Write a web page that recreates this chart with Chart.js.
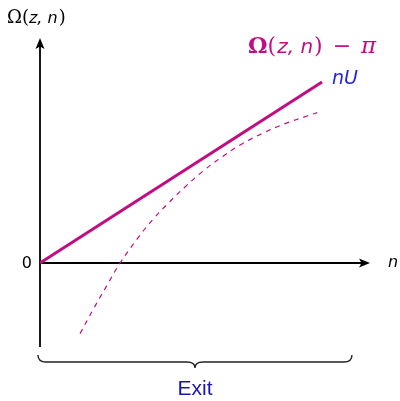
<!DOCTYPE html>
<html>
<head>
<meta charset="utf-8">
<script src="https://cdn.jsdelivr.net/npm/chart.js@4/dist/chart.umd.min.js"></script>
<style>
  html, body { margin: 0; padding: 0; background: #fff; }
  #wrap { width: 400px; height: 401px; position: relative; }
</style>
</head>
<body>
<div id="wrap"><canvas id="c" width="400" height="401"></canvas></div>
<script>
// Straight line nU (solid) and the curve Ω(z, n) − π (dashed)
const lineN = [0, 10];
const lineValues = [0, 10];

const curveN = [1.42, 1.88, 2.38, 2.84, 3.44, 4.01, 4.61, 5.14, 5.78, 6.49, 7.16, 7.91, 8.69, 9.47, 10.0];
const curveValues = [-3.90, -2.58, -1.22, 0.0, 1.32, 2.42, 3.40, 4.20, 5.08, 5.90, 6.58, 7.18, 7.70, 8.12, 8.40];

// Axis extents and the range spanned by the brace
const xRange = [0, 11.7];
const yRange = [-4.64, 12.43];
const braceRange = [0, 11.06];

const MAGENTA = '#c20d82';
const BLUE = '#1f1fe6';
const DARK_BLUE = '#1a14b4';

const pts = (xs, ys) => xs.map((x, i) => ({ x, y: ys[i] }));

function arrowHead(ctx, x, y, dir) {
  ctx.beginPath();
  if (dir === 'up') {
    ctx.moveTo(x, y);
    ctx.lineTo(x - 4.5, y + 11);
    ctx.lineTo(x, y + 8.5);
    ctx.lineTo(x + 4.5, y + 11);
  } else {
    ctx.moveTo(x, y);
    ctx.lineTo(x - 11, y - 4.5);
    ctx.lineTo(x - 8.5, y);
    ctx.lineTo(x - 11, y + 4.5);
  }
  ctx.closePath();
  ctx.fill();
}

// Draws a run of text pieces left to right, each with its own font
function drawRun(ctx, x, y, pieces) {
  let cx = x;
  pieces.forEach(p => {
    if (p.gap) { cx += p.gap; return; }
    ctx.font = p.font;
    ctx.fillText(p.text, cx, y + (p.dy || 0));
    cx += ctx.measureText(p.text).width + (p.after || 0);
  });
}

const axesPlugin = {
  id: 'axesPlugin',
  beforeDatasetsDraw(chart) {
    const { ctx, scales: { x, y } } = chart;
    const x0 = x.getPixelForValue(0);
    const y0 = y.getPixelForValue(0);
    const xEnd = x.getPixelForValue(xRange[1]);
    const yTop = y.getPixelForValue(yRange[1]);
    const yBot = y.getPixelForValue(yRange[0]);
    ctx.save();
    ctx.strokeStyle = '#000';
    ctx.fillStyle = '#000';
    ctx.lineWidth = 1.8;
    ctx.beginPath();
    ctx.moveTo(x0, yBot);
    ctx.lineTo(x0, yTop + 6);
    ctx.moveTo(x0, y0);
    ctx.lineTo(xEnd - 6, y0);
    ctx.stroke();
    arrowHead(ctx, x0, yTop, 'up');
    arrowHead(ctx, xEnd, y0, 'right');
    ctx.restore();
  },
  afterDraw(chart) {
    const { ctx, scales: { x, y } } = chart;
    const x0 = x.getPixelForValue(0);
    const y0 = y.getPixelForValue(0);
    const xEnd = x.getPixelForValue(xRange[1]);
    const yBot = y.getPixelForValue(yRange[0]);
    ctx.save();
    ctx.textBaseline = 'middle';
    ctx.textAlign = 'left';

    // y-axis title Ω(z, n)
    ctx.fillStyle = '#000';
    drawRun(ctx, 7, 18, [
      { text: 'Ω(', font: '18px "DejaVu Serif"' },
      { text: 'z, n', font: 'italic 16px "DejaVu Sans"', dy: 1, after: 1 },
      { text: ')', font: '18px "DejaVu Serif"' }
    ]);

    // origin tick label
    ctx.font = '16px "DejaVu Sans"';
    ctx.textAlign = 'right';
    ctx.fillText('0', x0 - 8, y0 + 1);

    // x-axis title
    ctx.textAlign = 'left';
    ctx.font = 'italic 16px "DejaVu Sans"';
    ctx.fillText('n', xEnd + 18, y0);

    // series labels
    ctx.fillStyle = MAGENTA;
    drawRun(ctx, 248, 47, [
      { text: 'Ω', font: 'bold 22px "DejaVu Serif"' },
      { text: '(', font: '22px "DejaVu Serif"', after: 1 },
      { text: 'z, n', font: 'italic 20px "DejaVu Sans"', dy: 1, after: 1 },
      { text: ')', font: '22px "DejaVu Serif"' },
      { gap: 10 },
      { text: '−', font: '22px "DejaVu Serif"' },
      { gap: 10 },
      { text: 'π', font: 'italic 23px "DejaVu Serif"' }
    ]);

    ctx.fillStyle = BLUE;
    ctx.font = 'italic 19px "DejaVu Sans"';
    ctx.fillText('nU', x.getPixelForValue(lineN[1]) + 10, y.getPixelForValue(lineValues[1]) - 3);

    // brace under the horizontal range
    const bl = x.getPixelForValue(braceRange[0]) - 2;
    const br = x.getPixelForValue(braceRange[1]);
    const bm = (bl + br) / 2;
    const top = yBot + 8, mid = top + 7, tip = top + 13;
    ctx.strokeStyle = '#222';
    ctx.lineWidth = 1.4;
    ctx.beginPath();
    ctx.moveTo(bl, top);
    ctx.quadraticCurveTo(bl, mid, bl + 8, mid);
    ctx.lineTo(bm - 8, mid);
    ctx.quadraticCurveTo(bm, mid, bm, tip);
    ctx.quadraticCurveTo(bm, mid, bm + 8, mid);
    ctx.lineTo(br - 8, mid);
    ctx.quadraticCurveTo(br, mid, br, top);
    ctx.stroke();

    ctx.fillStyle = DARK_BLUE;
    ctx.font = '21px "Liberation Sans"';
    ctx.textAlign = 'center';
    ctx.fillText('Exit', bm, tip + 21);
    ctx.restore();
  }
};

new Chart(document.getElementById('c'), {
  type: 'scatter',
  data: {
    datasets: [
      {
        data: pts(lineN, lineValues),
        showLine: true,
        borderColor: MAGENTA,
        borderWidth: 3,
        pointRadius: 0
      },
      {
        data: pts(curveN, curveValues),
        showLine: true,
        borderColor: MAGENTA,
        borderWidth: 1.2,
        borderDash: [5, 5],
        tension: 0.4,
        pointRadius: 0
      }
    ]
  },
  options: {
    responsive: false,
    animation: false,
    events: [],
    layout: { padding: { left: 40, right: 30, top: 38, bottom: 54 } },
    plugins: { legend: { display: false }, tooltip: { enabled: false } },
    scales: {
      x: { type: 'linear', min: xRange[0], max: xRange[1], display: false },
      y: { type: 'linear', min: yRange[0], max: yRange[1], display: false }
    }
  },
  plugins: [axesPlugin]
});
</script>
</body>
</html>
